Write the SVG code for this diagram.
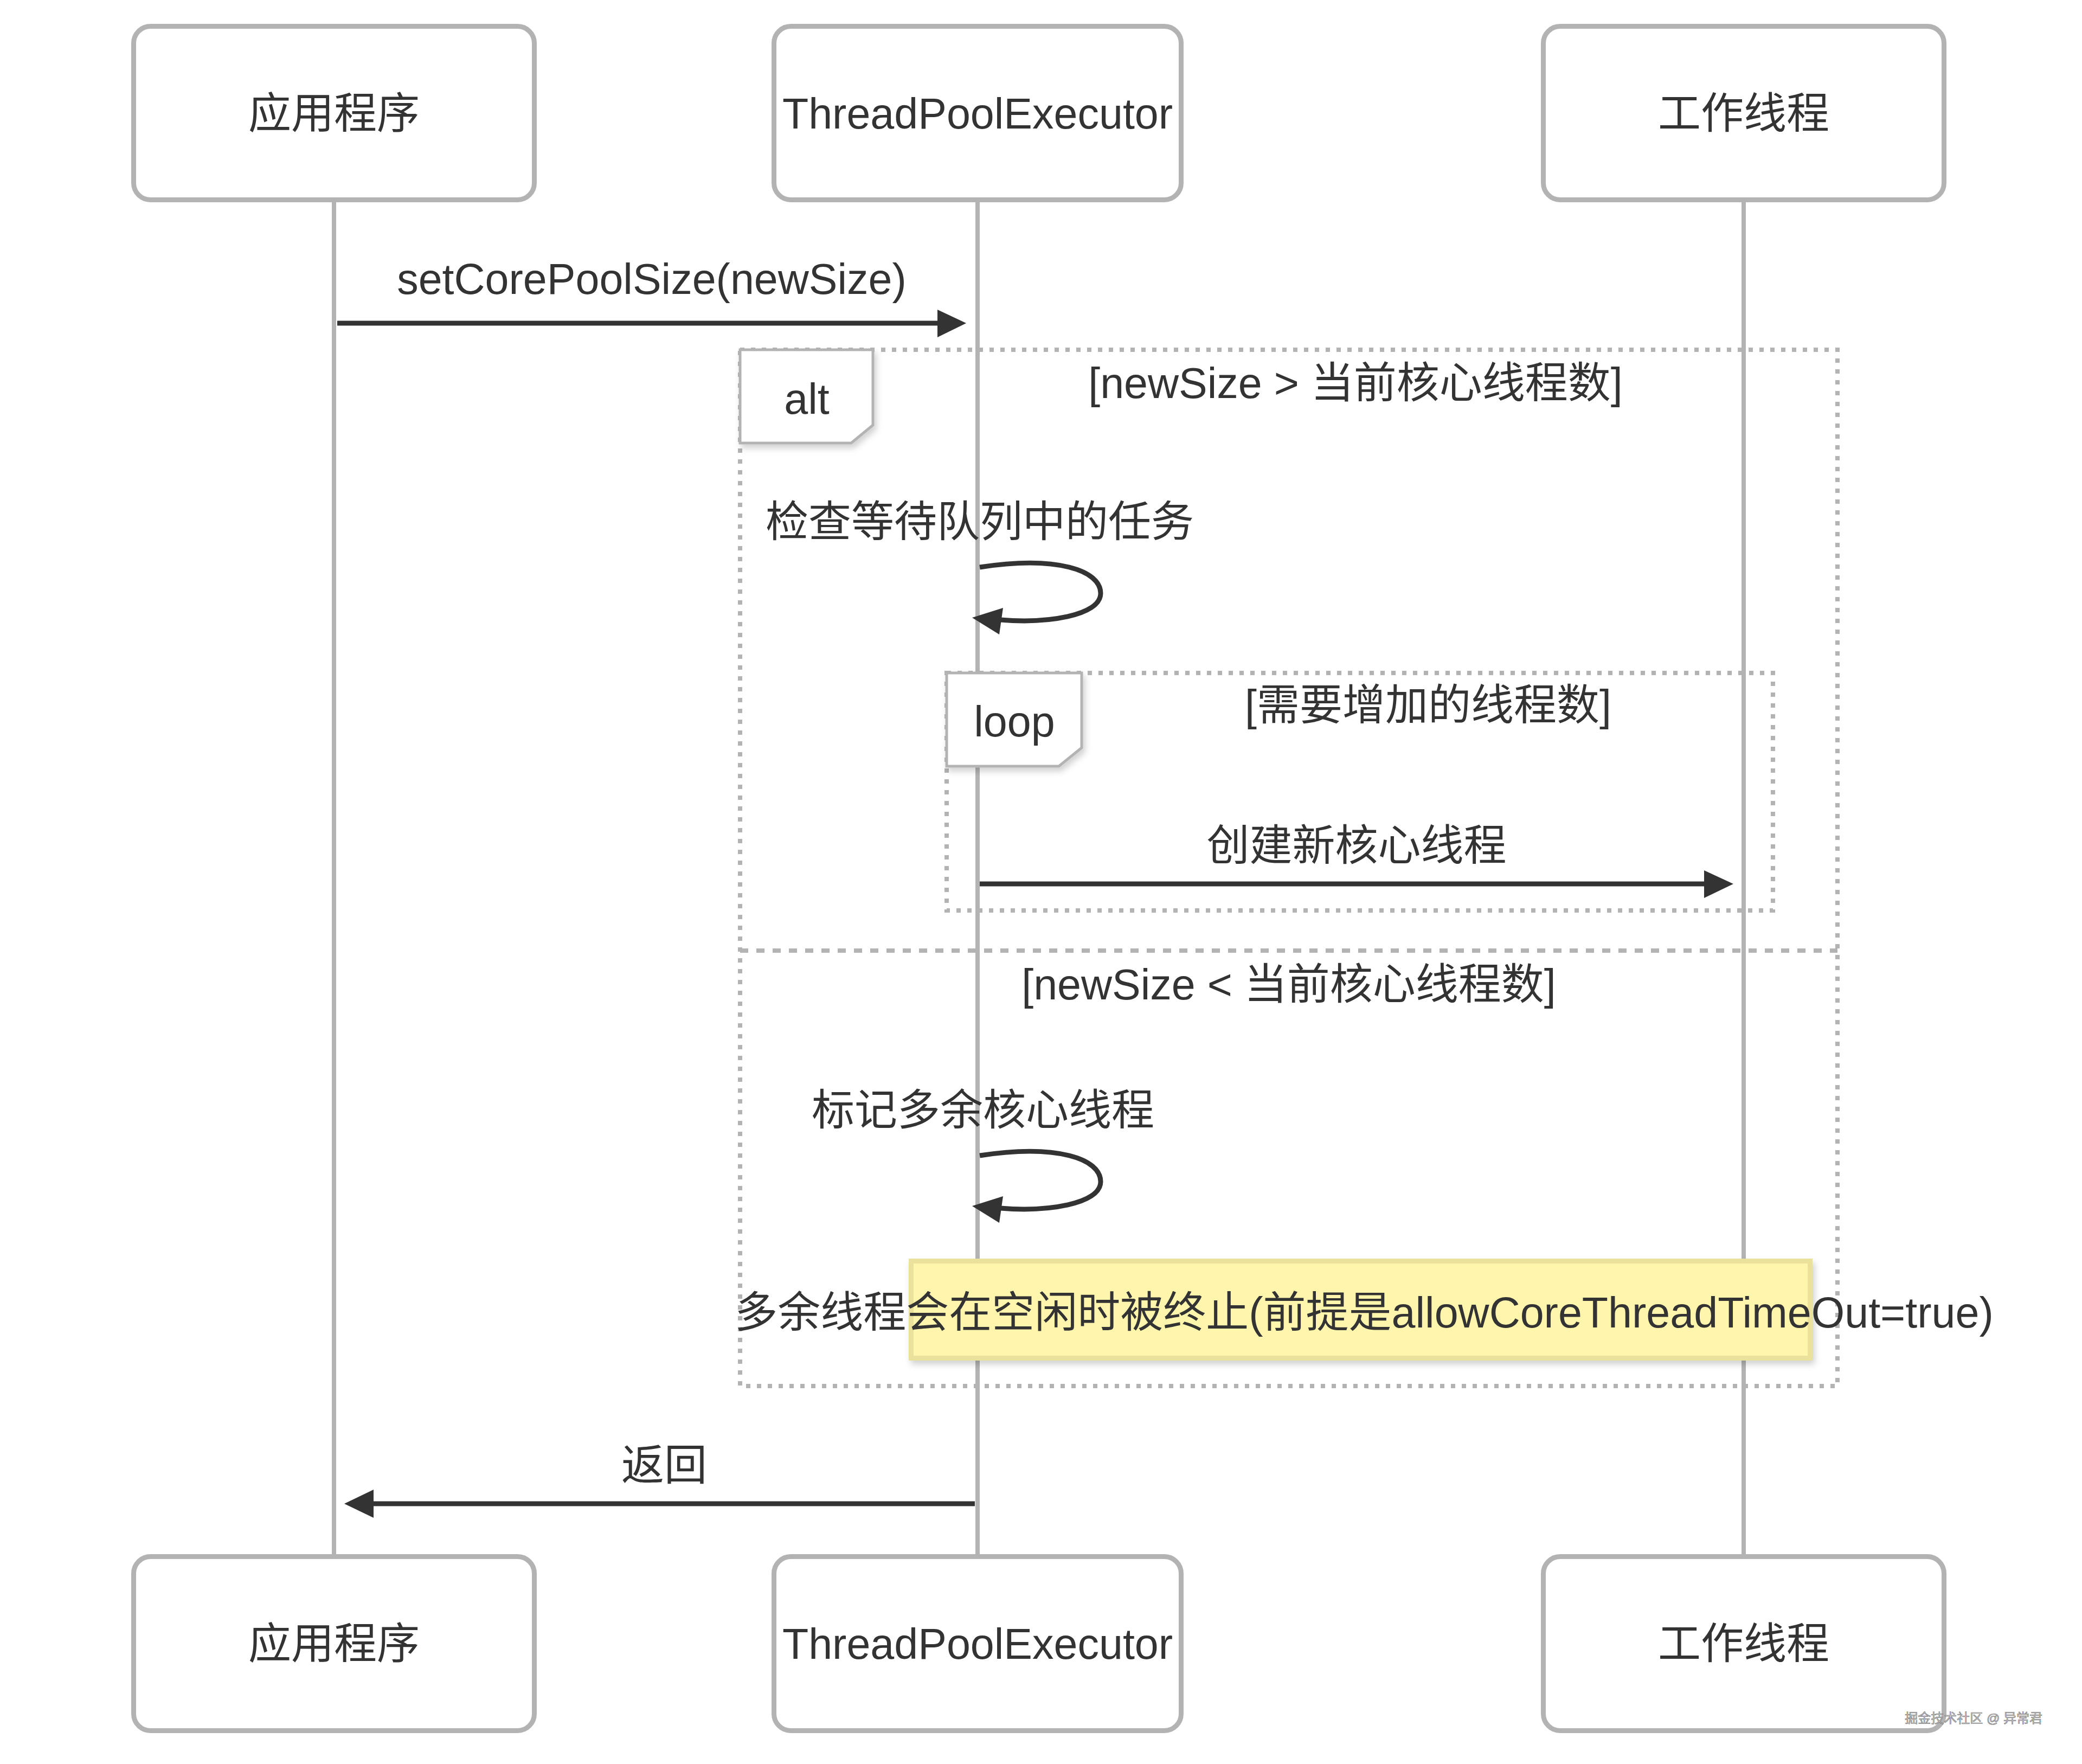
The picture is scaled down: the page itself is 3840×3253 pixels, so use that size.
<svg xmlns="http://www.w3.org/2000/svg" width="3840" height="3253" viewBox="0 0 3840 3253">
<defs>
<filter id="shadow" x="-10%" y="-10%" width="130%" height="140%">
<feDropShadow dx="4" dy="7" stdDeviation="6" flood-color="#000" flood-opacity="0.18"/>
</filter>
<style>
.actor{fill:#fff;stroke:#b3b3b3;stroke-width:9}
.life{stroke:#b3b3b3;stroke-width:8}
.frame{fill:none;stroke:#b3b3b3;stroke-width:8;stroke-dasharray:8 12}
.sep{stroke:#b3b3b3;stroke-width:8;stroke-dasharray:15 15}
.tag{fill:#fff;stroke:#b3b3b3;stroke-width:5}
.msg{fill:none;stroke:#333;stroke-width:9}
.head{fill:#333}
.t{font-family:"Liberation Sans","Noto Sans CJK SC",sans-serif;font-size:79px;fill:#333;text-anchor:middle}
.wm{font-family:"Liberation Sans","Noto Sans CJK SC",sans-serif;font-size:24px;fill:#c8c8c8;stroke:#777;stroke-width:0.7;text-anchor:end}
</style>
</defs>
<rect width="3840" height="3253" fill="#fff"/>

<g id="lifelines">
<line class="life" x1="616" y1="372" x2="616" y2="2867"/>
<line class="life" x1="1803" y1="372" x2="1803" y2="2867"/>
<line class="life" x1="3216" y1="372" x2="3216" y2="2867"/>
</g>

<g id="actor-app-top">
<rect class="actor" x="246.5" y="48.5" width="739" height="320" rx="31"/>
<text class="t" x="616" y="237">应用程序</text>
</g>
<g id="actor-executor-top">
<rect class="actor" x="1427.5" y="48.5" width="751" height="320" rx="31"/>
<text class="t" x="1803" y="237">ThreadPoolExecutor</text>
</g>
<g id="actor-worker-top">
<rect class="actor" x="2846.5" y="48.5" width="739" height="320" rx="31"/>
<text class="t" x="3216" y="237">工作线程</text>
</g>

<g id="actor-app-bottom">
<rect class="actor" x="246.5" y="2870.5" width="739" height="321" rx="31"/>
<text class="t" x="616" y="3059">应用程序</text>
</g>
<g id="actor-executor-bottom">
<rect class="actor" x="1427.5" y="2870.5" width="751" height="321" rx="31"/>
<text class="t" x="1803" y="3059">ThreadPoolExecutor</text>
</g>
<g id="actor-worker-bottom">
<rect class="actor" x="2846.5" y="2870.5" width="739" height="321" rx="31"/>
<text class="t" x="3216" y="3059">工作线程</text>
</g>

<g id="alt-frame">
<rect class="frame" x="1365" y="645" width="2024" height="1911"/>
<line class="sep" x1="1365" y1="1753" x2="3389" y2="1753"/>
<polygon class="tag" filter="url(#shadow)" points="1365,645 1610,645 1610,784 1570,817 1365,817"/>
<text class="t" x="1488" y="763">alt</text>
<text class="t" x="2500" y="734">[newSize &gt; 当前核心线程数]</text>
<text class="t" x="2377" y="1843">[newSize &lt; 当前核心线程数]</text>
</g>

<g id="loop-frame">
<rect class="frame" x="1746" y="1241" width="1524" height="438"/>
<polygon class="tag" filter="url(#shadow)" points="1746,1241 1995,1241 1995,1379 1953,1413 1746,1413"/>
<text class="t" x="1871" y="1358">loop</text>
<text class="t" x="2634" y="1328">[需要增加的线程数]</text>
</g>

<g id="note">
<rect x="1680.5" y="2325.5" width="1658" height="179" fill="#fff5ad" stroke="#e9e19c" stroke-width="9" filter="url(#shadow)"/>
<text class="t" x="2516" y="2448">多余线程会在空闲时被终止(前提是allowCoreThreadTimeOut=true)</text>
</g>

<g id="connectors">
<line class="msg" x1="622" y1="596" x2="1732" y2="596"/>
<polygon class="head" points="1729,571 1782,596 1729,622"/>
<text class="t" x="1202" y="542">setCorePoolSize(newSize)</text>

<path class="msg" d="M1807,1046 C1950,1024 2030,1052 2030,1094 C2030,1136 1930,1150 1845,1143"/>
<polygon class="head" points="1793,1139 1850,1121 1843,1170"/>
<text class="t" x="1807" y="990">检查等待队列中的任务</text>

<line class="msg" x1="1807" y1="1630" x2="3146" y2="1630"/>
<polygon class="head" points="3143,1605 3197,1630 3143,1656"/>
<text class="t" x="2502" y="1587">创建新核心线程</text>

<path class="msg" d="M1807,2131 C1950,2109 2030,2137 2030,2179 C2030,2221 1930,2235 1845,2228"/>
<polygon class="head" points="1793,2224 1850,2206 1843,2255"/>
<text class="t" x="1813" y="2075">标记多余核心线程</text>

<line class="msg" x1="1798" y1="2773" x2="686" y2="2773"/>
<polygon class="head" points="689,2747 635,2773 689,2799"/>
<text class="t" x="1225" y="2730">返回</text>
</g>

<text class="wm" x="3767" y="3177">掘金技术社区 @ 异常君</text>
</svg>
